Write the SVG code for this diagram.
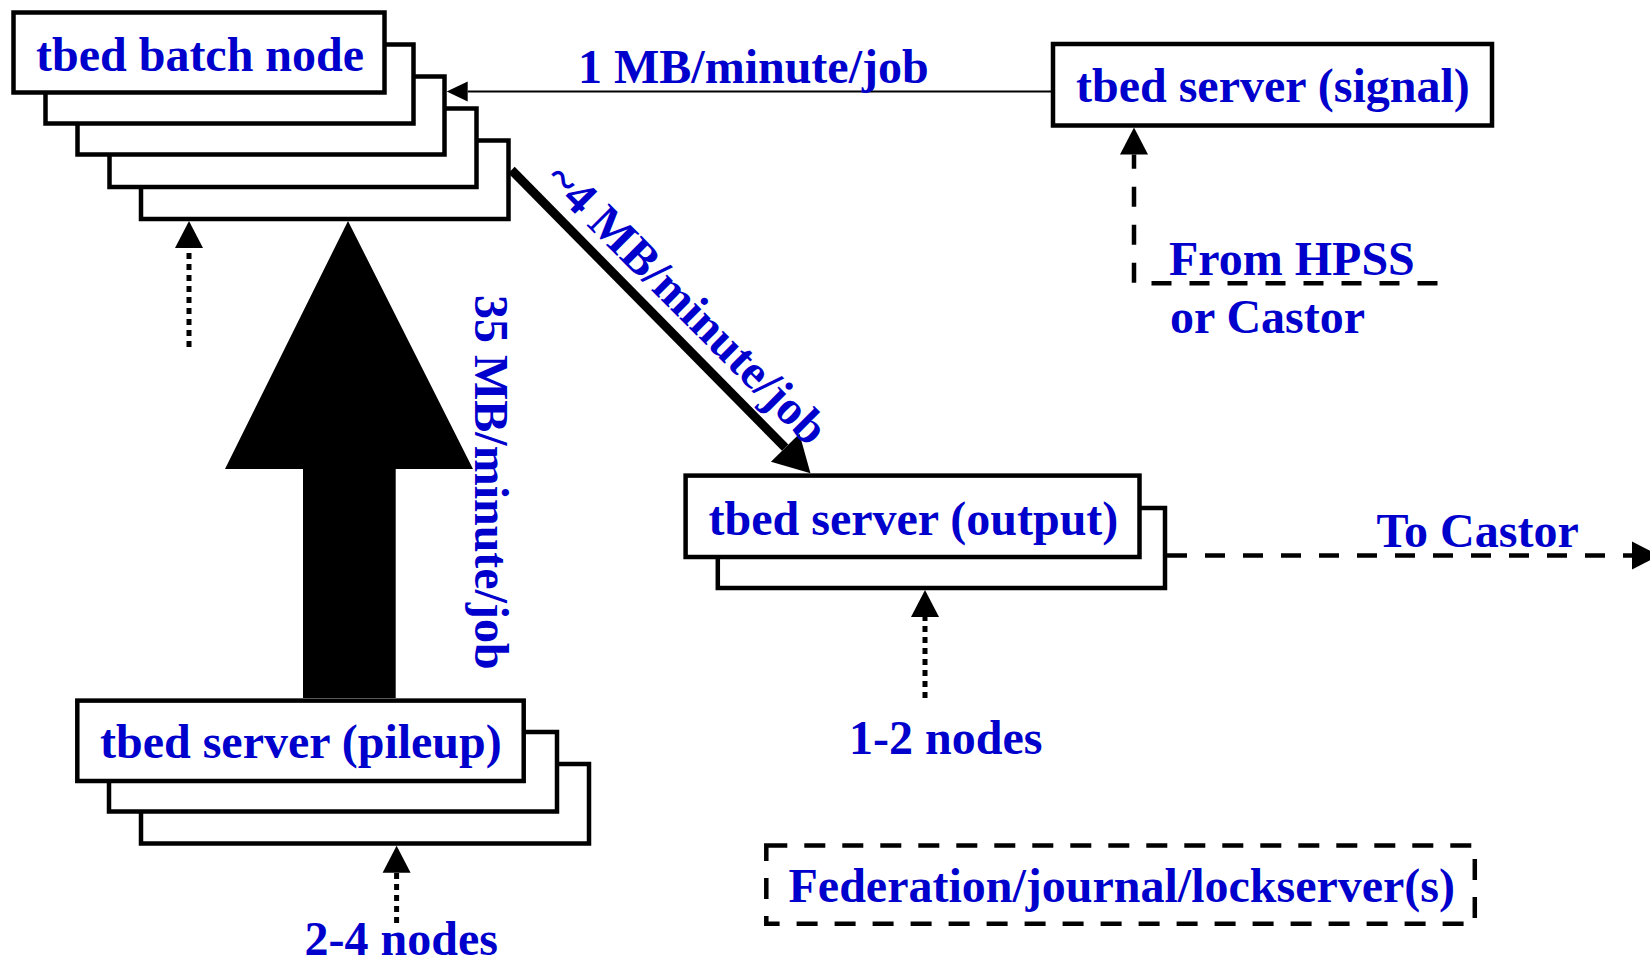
<svg xmlns="http://www.w3.org/2000/svg" width="1650" height="966" viewBox="0 0 1650 966">
<style>
  .box { fill: #ffffff; stroke: #000000; stroke-width: 4.5; }
  .dbox { fill: none; stroke: #000000; stroke-width: 4.5; stroke-dasharray: 21 17; }
  .lbl { font-family: "Liberation Serif", "Times New Roman", serif; font-weight: bold; font-size: 48px; fill: #0000cc; }
  .thin { fill: none; stroke: #000000; stroke-width: 2; }
  .dash { fill: none; stroke: #000000; stroke-width: 4.5; stroke-dasharray: 20 18; }
  .dot { fill: none; stroke: #000000; stroke-width: 5; stroke-dasharray: 6 5; }
  .thick { fill: none; stroke: #000000; stroke-width: 9; }
</style>
<defs>
  <marker id="ahBig" markerUnits="userSpaceOnUse" viewBox="0 -15 30 30" refX="0" refY="0" markerWidth="30" markerHeight="30" orient="auto" overflow="visible">
    <path d="M0,-14 L27,0 L0,14 Z" fill="#000000"/>
  </marker>
  <marker id="ahThin" markerUnits="userSpaceOnUse" viewBox="0 -11 22 22" refX="0" refY="0" markerWidth="22" markerHeight="22" orient="auto" overflow="visible">
    <path d="M0,-10 L21,0 L0,10 Z" fill="#000000"/>
  </marker>
  <marker id="ahDiag" markerUnits="userSpaceOnUse" viewBox="0 -21 38 42" refX="0" refY="0" markerWidth="38" markerHeight="42" orient="auto" overflow="visible">
    <path d="M0,-20 L36,0 L0,20 Z" fill="#000000"/>
  </marker>
</defs>

<g id="batch-node">
  <rect class="box" x="141" y="140.5" width="367.5" height="78.5"/>
  <rect class="box" x="109.5" y="108.5" width="367" height="78.5"/>
  <rect class="box" x="77.5" y="76.5" width="367" height="78"/>
  <rect class="box" x="45.5" y="44.5" width="368" height="79"/>
  <rect class="box" x="13.5" y="12.5" width="371" height="80"/>
  <text class="lbl" x="36" y="70.5">tbed batch node</text>
</g>

<g id="signal-server">
  <rect class="box" x="1053" y="44" width="439" height="81.5"/>
  <text class="lbl" x="1076" y="101.5">tbed server (signal)</text>
</g>

<g id="connectors">
  <polygon id="pileup-to-batch" points="348,221 473,469 395.7,469 395.7,698 303,698 303,469 225,469" fill="#000000"/>
  <path class="thin" d="M1051,91.5 L467.7,91.5" marker-end="url(#ahThin)"/>
  <path class="thick" d="M511.5,170 L785.2,447.7" marker-end="url(#ahDiag)"/>
  <path class="dash" d="M1437.5,283.3 L1134,283.3 L1134,154.5" marker-end="url(#ahBig)"/>
  <path class="dash" d="M1167,555.5 L1632,555.5" marker-end="url(#ahBig)"/>
  <path class="dot" d="M189,347 L189,248" marker-end="url(#ahBig)"/>
  <path class="dot" d="M396.6,923 L396.6,872.7" marker-end="url(#ahBig)"/>
  <path class="dot" d="M925,698 L925,617" marker-end="url(#ahBig)"/>
</g>

<g id="pileup-server">
  <rect class="box" x="141" y="764" width="448" height="79.5"/>
  <rect class="box" x="109" y="732" width="448" height="79.5"/>
  <rect class="box" x="77.3" y="700.6" width="446.4" height="80.4"/>
  <text class="lbl" x="100" y="758.3">tbed server (pileup)</text>
</g>

<g id="output-server">
  <rect class="box" x="717.8" y="508" width="447.2" height="80"/>
  <rect class="box" x="685.6" y="475.6" width="453.9" height="81.4"/>
  <text class="lbl" x="708.6" y="535">tbed server (output)</text>
</g>

<g id="federation">
  <rect class="dbox" x="766.3" y="845.5" width="708.5" height="78.3"/>
  <text class="lbl" x="788.5" y="901.7">Federation/journal/lockserver(s)</text>
</g>

<g id="labels">
  <text class="lbl" x="578" y="83.3">1 MB/minute/job</text>
  <text class="lbl" transform="translate(543,182) rotate(45)">~4 MB/minute/job</text>
  <text class="lbl" transform="translate(475,295) rotate(90)">35 MB/minute/job</text>
  <text class="lbl" x="1169" y="275">From HPSS</text>
  <text class="lbl" x="1170" y="333.3">or Castor</text>
  <text class="lbl" x="1376.5" y="547.3">To Castor</text>
  <text class="lbl" x="849" y="754">1-2 nodes</text>
  <text class="lbl" x="304.5" y="955">2-4 nodes</text>
</g>
</svg>
